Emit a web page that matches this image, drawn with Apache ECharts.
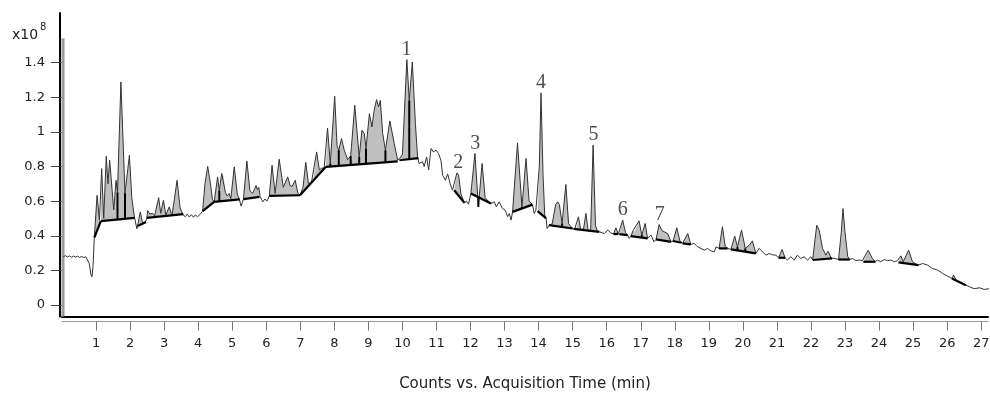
<!DOCTYPE html>
<html>
<head>
<meta charset="utf-8">
<script src="https://cdn.jsdelivr.net/npm/echarts@6/dist/echarts.min.js"></script>
<style>html,body{margin:0;padding:0;background:#fff}#c{width:990px;height:394px}</style>
</head>
<body>
<div id="c"></div>
<script>
// ---- DATA ----
const xTicks = [1,2,3,4,5,6,7,8,9,10,11,12,13,14,15,16,17,18,19,20,21,22,23,24,25,26,27];
const yTicks = [0,0.2,0.4,0.6,0.8,1,1.2,1.4];
const xTitle = 'Counts vs. Acquisition Time (min)';
const yUnit = 'x10';
const yUnitExp = '8';

// total ion chromatogram [time (min), counts x1e8]
const tracePoints = [
[0.04,0.28],[0.1,0.285],[0.16,0.278],[0.22,0.284],[0.28,0.276],[0.34,0.283],[0.4,0.277],[0.46,0.282],[0.52,0.275],[0.58,0.281],[0.64,0.274],[0.7,0.279],[0.75,0.27],[0.8,0.24],[0.85,0.175],[0.88,0.163],[0.91,0.22],[0.95,0.39],
[1.03,0.634],[1.10,0.49],[1.165,0.788],[1.225,0.50],[1.30,0.859],[1.35,0.70],[1.40,0.836],[1.52,0.55],[1.587,0.72],[1.63,0.65],[1.73,1.288],[1.85,0.646],[1.98,0.865],[2.05,0.62],[2.125,0.51],[2.2,0.44],[2.22,0.456],
[2.30,0.538],[2.37,0.47],[2.45,0.48],[2.49,0.50],[2.52,0.545],[2.58,0.525],[2.66,0.53],[2.72,0.515],[2.84,0.62],[2.90,0.53],[2.98,0.605],[3.05,0.52],[3.15,0.567],[3.23,0.515],[3.38,0.72],[3.47,0.56],[3.56,0.52],
[3.62,0.51],[3.68,0.525],[3.74,0.508],[3.8,0.522],[3.86,0.507],[3.92,0.52],[3.98,0.51],[4.05,0.522],[4.13,0.542],
[4.2,0.70],[4.28,0.80],[4.36,0.70],[4.42,0.61],[4.47,0.595],
[4.57,0.74],[4.62,0.66],[4.69,0.76],[4.74,0.75],[4.8,0.65],[4.85,0.63],[4.91,0.644],[4.96,0.615],[5.06,0.798],[5.15,0.64],[5.21,0.61],[5.26,0.571],
[5.33,0.612],[5.43,0.832],[5.52,0.66],[5.60,0.645],[5.70,0.69],[5.74,0.665],[5.78,0.68],[5.82,0.625],[5.9,0.596],[5.96,0.612],[6.02,0.60],[6.09,0.63],
[6.17,0.807],[6.26,0.645],[6.38,0.842],[6.50,0.68],[6.63,0.74],[6.70,0.69],[6.76,0.685],[6.85,0.72],[6.93,0.645],[6.99,0.634],
[7.08,0.68],[7.16,0.824],[7.24,0.70],[7.33,0.711],[7.38,0.72],[7.48,0.884],[7.56,0.78],[7.62,0.79],[7.70,0.79],[7.75,0.798],
[7.80,1.022],[7.88,0.817],[8.01,1.205],[8.08,0.92],[8.13,0.894],[8.21,0.961],[8.29,0.894],[8.39,0.84],[8.48,0.86],[8.60,1.153],[8.73,0.855],[8.81,1.009],[8.88,0.99],[8.93,0.904],[9.03,1.105],[9.105,1.028],[9.17,1.125],[9.24,1.186],[9.30,1.144],[9.35,1.182],[9.42,0.99],[9.50,0.894],[9.63,1.063],[9.76,0.932],[9.86,0.836],[9.93,0.85],[10.0,0.87],[10.13,1.417],[10.20,1.18],[10.29,1.403],[10.38,1.05],[10.445,0.852],
[10.49,0.817],[10.59,0.827],[10.64,0.80],[10.71,0.855],[10.77,0.78],[10.84,0.904],[10.91,0.884],[10.99,0.894],[11.06,0.875],[11.13,0.836],[11.18,0.75],[11.26,0.721],[11.33,0.757],[11.40,0.70],[11.47,0.663],
[11.52,0.663],[11.60,0.763],[11.65,0.75],[11.72,0.64],[11.82,0.59],[11.88,0.60],[11.94,0.582],[12.01,0.644],
[12.13,0.875],[12.23,0.567],[12.34,0.817],[12.43,0.62],[12.52,0.60],[12.60,0.586],
[12.70,0.596],[12.76,0.567],[12.84,0.596],[12.94,0.557],[13.02,0.548],[13.09,0.51],[13.14,0.529],[13.19,0.49],[13.235,0.538],
[13.38,0.936],[13.51,0.567],[13.63,0.846],[13.72,0.60],[13.82,0.58],[13.87,0.529],[13.92,0.548],[13.97,0.542],
[14.02,0.80],[14.07,1.225],[14.13,0.75],[14.18,0.52],[14.22,0.50],[14.25,0.442],[14.31,0.461],
[14.40,0.47],[14.50,0.58],[14.56,0.596],[14.61,0.58],[14.69,0.471],[14.80,0.696],[14.88,0.47],[15.0,0.44],
[15.06,0.44],[15.1,0.43],[15.17,0.509],[15.24,0.433],[15.32,0.44],[15.39,0.529],[15.46,0.423],[15.53,0.44],[15.60,0.923],[15.67,0.46],[15.72,0.43],[15.78,0.423],
[15.83,0.433],[15.93,0.413],[16.03,0.433],[16.12,0.417],[16.2,0.41],[16.27,0.446],[16.34,0.41],[16.37,0.41],[16.47,0.49],[16.55,0.42],[16.61,0.404],[16.66,0.385],[16.71,0.398],[16.78,0.432],[16.82,0.425],[16.95,0.486],[17.03,0.404],[17.13,0.471],[17.20,0.385],[17.30,0.404],[17.39,0.365],
[17.45,0.379],[17.54,0.465],[17.62,0.43],[17.69,0.423],[17.79,0.413],[17.89,0.365],[17.95,0.37],[18.06,0.446],[18.15,0.37],[18.2,0.36],[18.23,0.356],[18.38,0.413],[18.47,0.35],
[18.57,0.356],[18.67,0.336],[18.77,0.327],[18.87,0.317],[18.96,0.327],[19.06,0.313],[19.16,0.307],[19.21,0.336],[19.3,0.327],[19.40,0.452],[19.48,0.34],[19.55,0.327],[19.6,0.333],
[19.65,0.321],[19.76,0.398],[19.84,0.336],[19.96,0.433],[20.07,0.327],[20.19,0.346],[20.28,0.371],[20.38,0.298],
[20.48,0.327],[20.58,0.307],[20.68,0.288],[20.77,0.298],[20.87,0.29],[20.97,0.288],[21.05,0.273],[21.15,0.321],[21.24,0.273],
[21.31,0.26],[21.41,0.279],[21.51,0.26],[21.60,0.288],[21.70,0.269],[21.80,0.279],[21.90,0.26],[22.0,0.279],
[22.05,0.26],[22.12,0.38],[22.17,0.461],[22.24,0.433],[22.34,0.327],[22.44,0.288],[22.5,0.311],[22.6,0.27],[22.68,0.27],
[22.81,0.263],[22.89,0.42],[22.94,0.557],[23.0,0.42],[23.08,0.28],[23.14,0.263],
[23.22,0.269],[23.32,0.256],[23.42,0.26],[23.51,0.256],[23.54,0.25],[23.68,0.317],[23.80,0.27],[23.89,0.25],
[23.95,0.26],[24.05,0.25],[24.15,0.263],[24.25,0.256],[24.35,0.26],[24.45,0.25],[24.54,0.256],
[24.57,0.246],[24.64,0.284],[24.71,0.25],[24.87,0.317],[24.98,0.25],[25.1,0.235],[25.16,0.231],
[25.28,0.24],[25.42,0.231],[25.57,0.211],[25.72,0.202],[25.86,0.183],[26.01,0.167],[26.14,0.154],[26.19,0.173],[26.26,0.145],[26.35,0.135],[26.45,0.125],[26.55,0.115],
[26.65,0.106],[26.80,0.094],[26.95,0.10],[27.09,0.09],[27.24,0.095]
];

// integrated baselines [t start, value start, t end, value end]
const baselines = [
[0.95,0.39,1.14,0.485],[1.14,0.485,2.13,0.503],[2.22,0.456,2.47,0.48],[2.49,0.503,3.56,0.525],
[4.13,0.542,4.47,0.596],[4.47,0.596,5.22,0.61],[5.33,0.612,5.80,0.625],[6.09,0.63,6.99,0.634],
[6.99,0.634,7.75,0.798],[7.75,0.798,9.86,0.83],[9.91,0.836,10.47,0.848],[11.52,0.663,11.82,0.59],
[12.01,0.644,12.60,0.586],[13.235,0.538,13.82,0.58],[13.97,0.542,14.22,0.50],[14.31,0.461,15.0,0.442],
[15.03,0.44,15.78,0.423],[16.2,0.41,16.34,0.41],[16.37,0.41,16.61,0.404],[16.71,0.398,17.20,0.385],
[17.45,0.379,17.89,0.365],[17.95,0.37,18.2,0.36],[18.23,0.356,18.47,0.35],[19.3,0.327,19.55,0.327],
[19.65,0.321,20.38,0.298],[21.05,0.273,21.24,0.273],[22.05,0.26,22.62,0.27],[22.81,0.263,23.14,0.263],
[23.54,0.25,23.89,0.25],[24.57,0.246,25.16,0.231],[26.14,0.154,26.55,0.115]
];

// peak drop lines [t, bottom value, top value]
const dividers = [
[1.63,0.494,0.65],[1.85,0.498,0.646],[4.62,0.60,0.66],[7.88,0.80,0.817],[8.13,0.804,0.894],[8.48,0.809,0.86],
[8.73,0.813,0.855],[8.93,0.816,0.904],[9.50,0.825,0.894],[10.20,0.842,1.18],[12.23,0.62,0.567],[13.51,0.559,0.567],
[14.69,0.449,0.471],[17.03,0.39,0.404],[19.84,0.315,0.336],[20.07,0.308,0.327]
];

// solvent front marker at t≈0
const solventPeak = [[0.03,1.54]];

const peakNames = ['1','2','3','4','5','6','7'];
const peakTimes = [10.12,11.64,12.14,14.07,15.61,16.47,17.56];
const peakHeights = [1.417,0.763,0.875,1.225,0.923,0.49,0.465];

// ---- CHART ----
const chart = echarts.init(document.getElementById('c'), null, {renderer:'canvas'});
const FONT = 'DejaVu Sans';
const yMin = -0.066, yMax = 1.686, xMax = 27.2;

function renderFill(params, api) {
  const t1 = api.value(0), v1 = api.value(1), t2 = api.value(2), v2 = api.value(3);
  const pts = [api.coord([t1, v1])];
  for (const p of tracePoints) if (p[0] > t1 && p[0] < t2) pts.push(api.coord(p));
  pts.push(api.coord([t2, v2]));
  return {type:'polygon', shape:{points:pts}, style:{fill:'#bfbfbf'}, silent:true};
}
function renderBase(params, api) {
  const a = api.coord([api.value(0), api.value(1)]);
  const b = api.coord([api.value(2), api.value(3)]);
  return {type:'line', shape:{x1:a[0],y1:a[1],x2:b[0],y2:b[1]}, style:{stroke:'#000', lineWidth:2.2}, silent:true};
}
function renderDivider(params, api) {
  const a = api.coord([api.value(0), api.value(1)]);
  const b = api.coord([api.value(0), api.value(2)]);
  return {type:'line', shape:{x1:a[0],y1:a[1],x2:b[0],y2:b[1]}, style:{stroke:'#000', lineWidth:2}, silent:true};
}
function renderSolvent(params, api) {
  const top = api.coord([api.value(0), api.value(1)]);
  const cs = params.coordSys;
  return {type:'rect', shape:{x:top[0]-1.5, y:top[1], width:3, height:cs.y+cs.height-top[1]}, style:{fill:'#9a9a9a'}, silent:true};
}

const option = {
  animation:false,
  backgroundColor:'#fff',
  grid:{left:62, right:2, top:13, bottom:77.5, containLabel:false, outerBoundsMode:'none'},
  graphic:[
    {type:'text', left:12, top:28, style:{text:yUnit, font:'14px "DejaVu Sans"', fill:'#222'}},
    {type:'text', left:40, top:22, style:{text:yUnitExp, font:'10px "DejaVu Sans"', fill:'#222'}}
  ],
  xAxis:[
    {type:'value', min:0, max:xMax, position:'bottom',
     axisLine:{show:true, onZero:false, lineStyle:{color:'#000', width:2}},
     axisTick:{show:false}, axisLabel:{show:false}, splitLine:{show:false}},
    {type:'value', min:0, max:xMax, position:'bottom', offset:5,
     axisLine:{show:true, onZero:false, lineStyle:{color:'#9a9a9a', width:1}},
     axisTick:{show:true, length:9, customValues:xTicks, lineStyle:{color:'#777'}},
     axisLabel:{show:true, customValues:xTicks, margin:16, fontFamily:FONT, fontSize:13, color:'#222'},
     splitLine:{show:false},
     name:xTitle, nameLocation:'middle', nameGap:55,
     nameTextStyle:{fontFamily:FONT, fontSize:15, color:'#222'}}
  ],
  yAxis:[
    {type:'value', min:yMin, max:yMax, position:'left', offset:2,
     axisLine:{show:true, onZero:false, lineStyle:{color:'#000', width:2}},
     axisTick:{show:false}, axisLabel:{show:false}, splitLine:{show:false}},
    {type:'value', min:yMin, max:yMax, position:'left', offset:4,
     axisLine:{show:false},
     axisTick:{show:true, length:11, customValues:yTicks, lineStyle:{color:'#444'}},
     axisLabel:{show:true, customValues:yTicks, margin:13, fontFamily:FONT, fontSize:13, color:'#222'},
     splitLine:{show:false}}
  ],
  series:[
    {type:'custom', name:'solvent', renderItem:renderSolvent, data:solventPeak, encode:{x:0,y:1}, z:1},
    {type:'custom', name:'fill', renderItem:renderFill, data:baselines, encode:{x:[0,2],y:[1,3]}, z:1},
    {type:'line', name:'TIC', data:tracePoints, showSymbol:false, symbol:'none',
     lineStyle:{color:'#333', width:1}, z:2},
    {type:'custom', name:'baseline', renderItem:renderBase, data:baselines, encode:{x:[0,2],y:[1,3]}, z:3},
    {type:'custom', name:'drop', renderItem:renderDivider, data:dividers, encode:{x:0,y:[1,2]}, z:3},
    {type:'scatter', name:'labels', symbolSize:0, z:4,
     data:peakNames.map((n,i)=>({value:[peakTimes[i], peakHeights[i]], name:n})),
     label:{show:true, position:'top', distance:0, formatter:'{b}',
            fontFamily:'Liberation Serif', fontSize:20, color:'#222'}}
  ]
};
chart.setOption(option);
</script>
</body>
</html>
